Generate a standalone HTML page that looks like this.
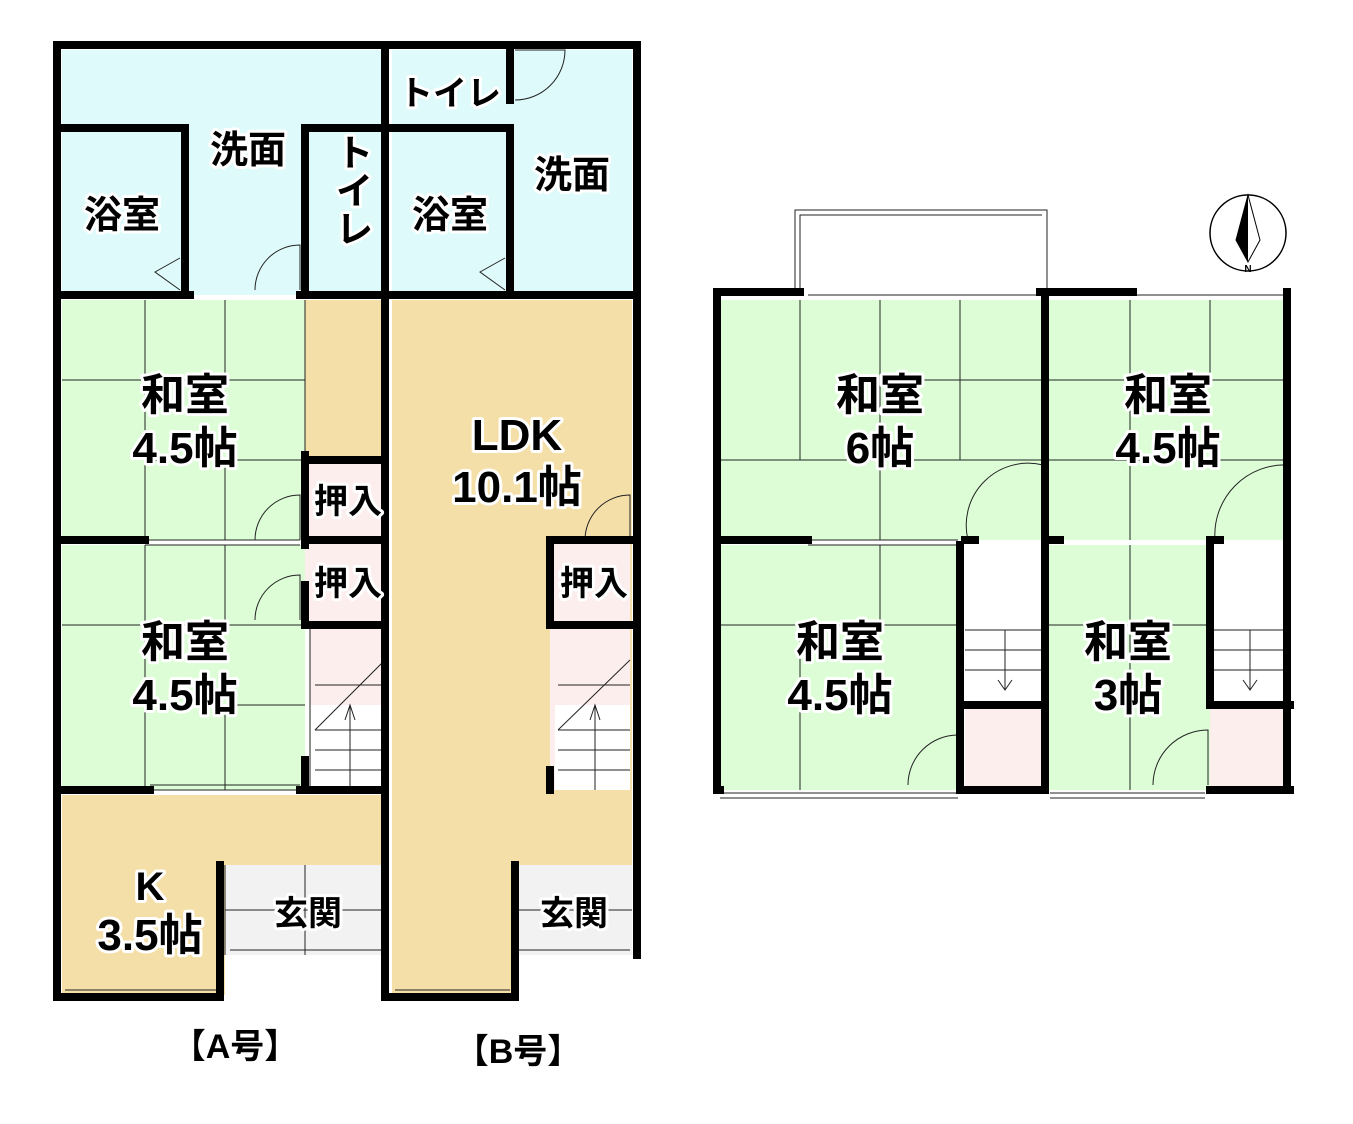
<!DOCTYPE html>
<html><head><meta charset="utf-8"><style>
html,body{margin:0;padding:0;background:#fff}
svg text{font-family:"Liberation Sans","Noto Sans CJK JP",sans-serif;font-weight:bold;fill:#000;paint-order:stroke;stroke:#fff;stroke-width:6px;stroke-linejoin:round;text-anchor:middle}
</style></head><body>
<svg width="1353" height="1119" viewBox="0 0 1353 1119" xmlns="http://www.w3.org/2000/svg">
<g stroke="none">
<rect x="62" y="50" width="323" height="245" fill="#dffafa"/>
<rect x="392" y="50" width="240" height="245" fill="#dffafa"/>
<rect x="62" y="300" width="243" height="240" fill="#dcfdd6"/>
<rect x="62" y="545" width="243" height="245" fill="#dcfdd6"/>
<rect x="305" y="300" width="80" height="160" fill="#f5dfa8"/>
<rect x="305" y="460" width="80" height="165" fill="#fdeeee"/>
<rect x="310" y="625" width="75" height="165" fill="#fdeeee"/>
<rect x="310" y="705" width="75" height="85" fill="#fff"/>
<rect x="62" y="795" width="323" height="200" fill="#f5dfa8"/>
<rect x="225" y="865" width="160" height="90" fill="#f2f2f2"/>
<rect x="225" y="955" width="160" height="42" fill="#fff"/>
<rect x="392" y="300" width="240" height="697" fill="#f5dfa8"/>
<rect x="550" y="540" width="80" height="250" fill="#fdeeee"/>
<rect x="555" y="705" width="75" height="85" fill="#fff"/>
<rect x="515" y="865" width="117" height="90" fill="#f2f2f2"/>
<rect x="515" y="955" width="117" height="42" fill="#fff"/>
<rect x="720" y="300" width="323" height="240" fill="#dcfdd6"/>
<rect x="1048" y="300" width="242" height="240" fill="#dcfdd6"/>
<rect x="720" y="545" width="240" height="245" fill="#dcfdd6"/>
<rect x="1048" y="545" width="162" height="245" fill="#dcfdd6"/>
<rect x="965" y="705" width="78" height="85" fill="#fdeeee"/>
<rect x="1210" y="705" width="80" height="85" fill="#fdeeee"/>
</g>
<g stroke="#222" stroke-width="1" fill="none">
<path d="M145 300V540M225 300V380M62 380H305M145 460H305M225 460V540"/>
<path d="M145 545V790M225 545V625M62 625H305M145 705H305M225 705V790"/>
<path d="M880 300V540M800 300V460M960 300V460M720 460H1043M880 380H1043"/>
<path d="M1130 300V540M1210 300V380M1048 380H1290M1048 460H1290"/>
<path d="M720 625H960M800 625V790M880 545V625"/>
<path d="M1048 625H1210M1130 545V790"/>
<path d="M315 730L385 660M315 730H385M315 750H385M315 770H385M350 705V790M345 720L350 705L355 720M315 685H385"/>
<path d="M558 730L630 660M558 730H630M558 750H630M558 770H630M595 705V790M590 720L595 705L600 720M558 685H630"/>
<path d="M965 630H1043M965 650H1043M965 670H1043M1005 630V690M998 680L1005 690L1012 680"/>
<path d="M1210 630H1290M1210 650H1290M1210 670H1290M1250 630V690M1243 680L1250 690L1257 680"/>
<path d="M795 292V210H1047V292M800 292V215H1042"/>
<path d="M305 300V460M310 625V790"/>
<path d="M225 865V955M225 910H385M305 865V955M515 865V955M515 910H632"/>
<path d="M255 290A45 45 0 0 1 300 245V290"/>
<path d="M255 540A45 45 0 0 1 300 495V540"/>
<path d="M255 620A45 45 0 0 1 300 575V620"/>
<path d="M585 540A45 45 0 0 1 630 495V540"/>
<path d="M515 100A50 50 0 0 0 565 50H515"/>
<path d="M968 540A62 62 0 0 1 1043 465V540"/>
<path d="M1215 540A70 70 0 0 1 1288 465V540"/>
<path d="M908 785A50 50 0 0 1 958 735V785"/>
<path d="M1153 785A55 55 0 0 1 1208 730V785"/>
<path d="M180 290L155 272L180 258M505 290L480 272L505 258"/>
<path d="M65 990H220M65 995H220M395 990H510M395 995H510M720 793H958M720 798H958M1050 793H1205M1050 798H1205"/>
<path d="M145 545H300M145 540H300M150 785H300M148 790H300M808 545H958M808 540H958M808 295H1040M1133 295H1285M230 950H385M518 950H630"/>
</g>
<g stroke="#000" stroke-width="8" fill="none" stroke-linecap="square">
<path d="M57 45H637V955M57 45V997H220V955M385 45V997M390 997H515V955"/>
<path d="M62 128H185V290M305 128H385M305 128V290M390 128H510V290M510 50V100"/>
<path d="M62 295H190M300 295H637"/>
<path d="M62 540H145M62 790H150M300 790H385M305 460H385M305 540H385M305 625H385M305 455V545M305 585V625M305 760V790"/>
<path d="M220 865V955M385 865V955M515 865V955"/>
<path d="M550 540H630M550 625H630M550 540V625M550 770V790"/>
<path d="M717 292H800M1040 292H1133M1287 292V790M717 292V790H720M1045 292V790M960 545V790M1210 545V705M1210 705H1290M965 705H1043M720 540H808M965 540H975M1048 540H1060M1210 540H1220M960 790H1045M1210 790H1290"/>
</g>
<circle cx="1248" cy="233" r="38" fill="#fff" stroke="#000" stroke-width="1.5"/>
<path d="M1248 195L1236 240L1248 262L1260 240Z" fill="#fff" stroke="#000"/>
<path d="M1248 195L1236 240L1248 262Z" fill="#000"/>
<text x="1248" y="272" font-size="10" style="stroke-width:0">N</text>
<g font-size="38">
<text x="248" y="163">洗面</text>
<text x="122" y="228">浴室</text>
<text x="450" y="228">浴室</text>
<text x="572" y="188">洗面</text>
<text x="450" y="105" font-size="34">トイレ</text>
</g>
<text font-size="38" x="350" y="190" style="writing-mode:vertical-rl">トイレ</text>
<g font-size="44">
<text x="185" y="410">和室</text><text x="185" y="463">4.5帖</text>
<text x="185" y="657">和室</text><text x="185" y="710">4.5帖</text>
<text x="517" y="450">LDK</text><text x="517" y="502">10.1帖</text>
<text x="150" y="900" font-size="40">K</text><text x="150" y="950">3.5帖</text>
<text x="880" y="410">和室</text><text x="880" y="463">6帖</text>
<text x="1168" y="410">和室</text><text x="1168" y="463">4.5帖</text>
<text x="840" y="657">和室</text><text x="840" y="710">4.5帖</text>
<text x="1128" y="657">和室</text><text x="1128" y="710">3帖</text>
</g>
<g font-size="34">
<text x="348" y="513">押入</text>
<text x="348" y="595">押入</text>
<text x="594" y="595">押入</text>
<text x="308" y="925">玄関</text>
<text x="574" y="925">玄関</text>
<text x="235" y="1058" style="stroke-width:0">【A号】</text>
<text x="518" y="1063" style="stroke-width:0">【B号】</text>
</g>
</svg>
</body></html>
